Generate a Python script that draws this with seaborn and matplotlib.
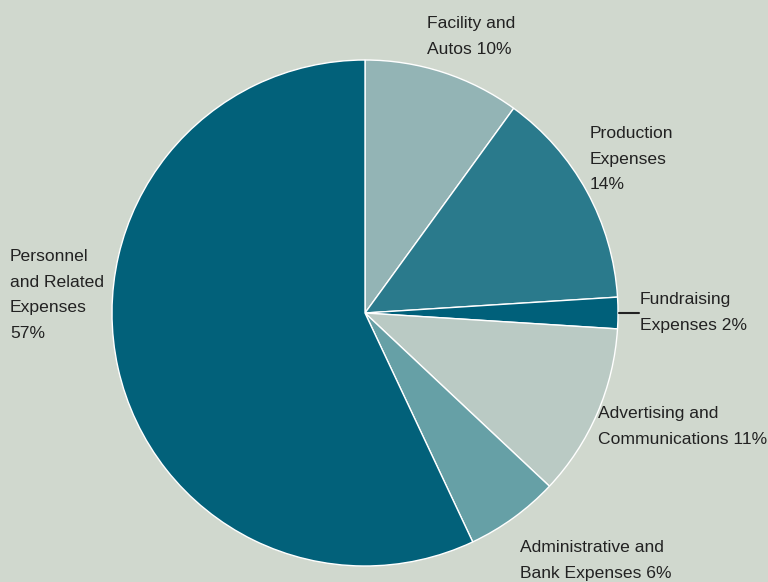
import matplotlib
matplotlib.use("Agg")
import matplotlib.pyplot as plt
import seaborn as sns

categories = ["Facility and\nAutos 10%", "Production\nExpenses\n14%", "Fundraising\nExpenses 2%",
              "Advertising and\nCommunications 11%", "Administrative and\nBank Expenses 6%",
              "Personnel\nand Related\nExpenses\n57%"]
values = [10, 14, 2, 11, 6, 57]
colors = ["#93B4B5", "#2A7A8C", "#00607A", "#BACAC4", "#66A0A6", "#02617A"]
# label anchor positions in pixels (left, top)
label_px = [(427, 16), (590, 126), (640, 292), (598, 406), (520, 540), (10, 249)]

sns.set_theme(style="white")
plt.rcParams['font.family'] = ['Liberation Sans', 'DejaVu Sans']
bg = "#D0D8CE"
W, H = 768, 582
fig = plt.figure(figsize=(W / 100, H / 100), dpi=100, facecolor=bg)
cx, cy, r = 365, 313, 253
ax = fig.add_axes([(cx - r) / W, (H - cy - r) / H, 2 * r / W, 2 * r / H])
ax.set_facecolor(bg)
pal = sns.color_palette(colors)
ax.pie(values, colors=pal, startangle=90, counterclock=False,
       wedgeprops=dict(edgecolor="white", linewidth=1.0), radius=1.0)
ax.set_xlim(-1, 1)
ax.set_ylim(-1, 1)
ax.axis("off")

def px2d(px, py):
    return (px - cx) / r, (cy - py) / r

for lab, (px, py) in zip(categories, label_px):
    x, y = px2d(px, py)
    ax.text(x, y, lab, ha="left", va="top", fontsize=12.6, color="#222222",
            linespacing=1.88, clip_on=False)

x0, y0 = px2d(619, 313)
x1, y1 = px2d(639, 313)
ax.plot([x0, x1], [y0, y1], color="#222222", lw=1.5, clip_on=False)

fig.savefig("out.png", dpi=100, facecolor=bg)
